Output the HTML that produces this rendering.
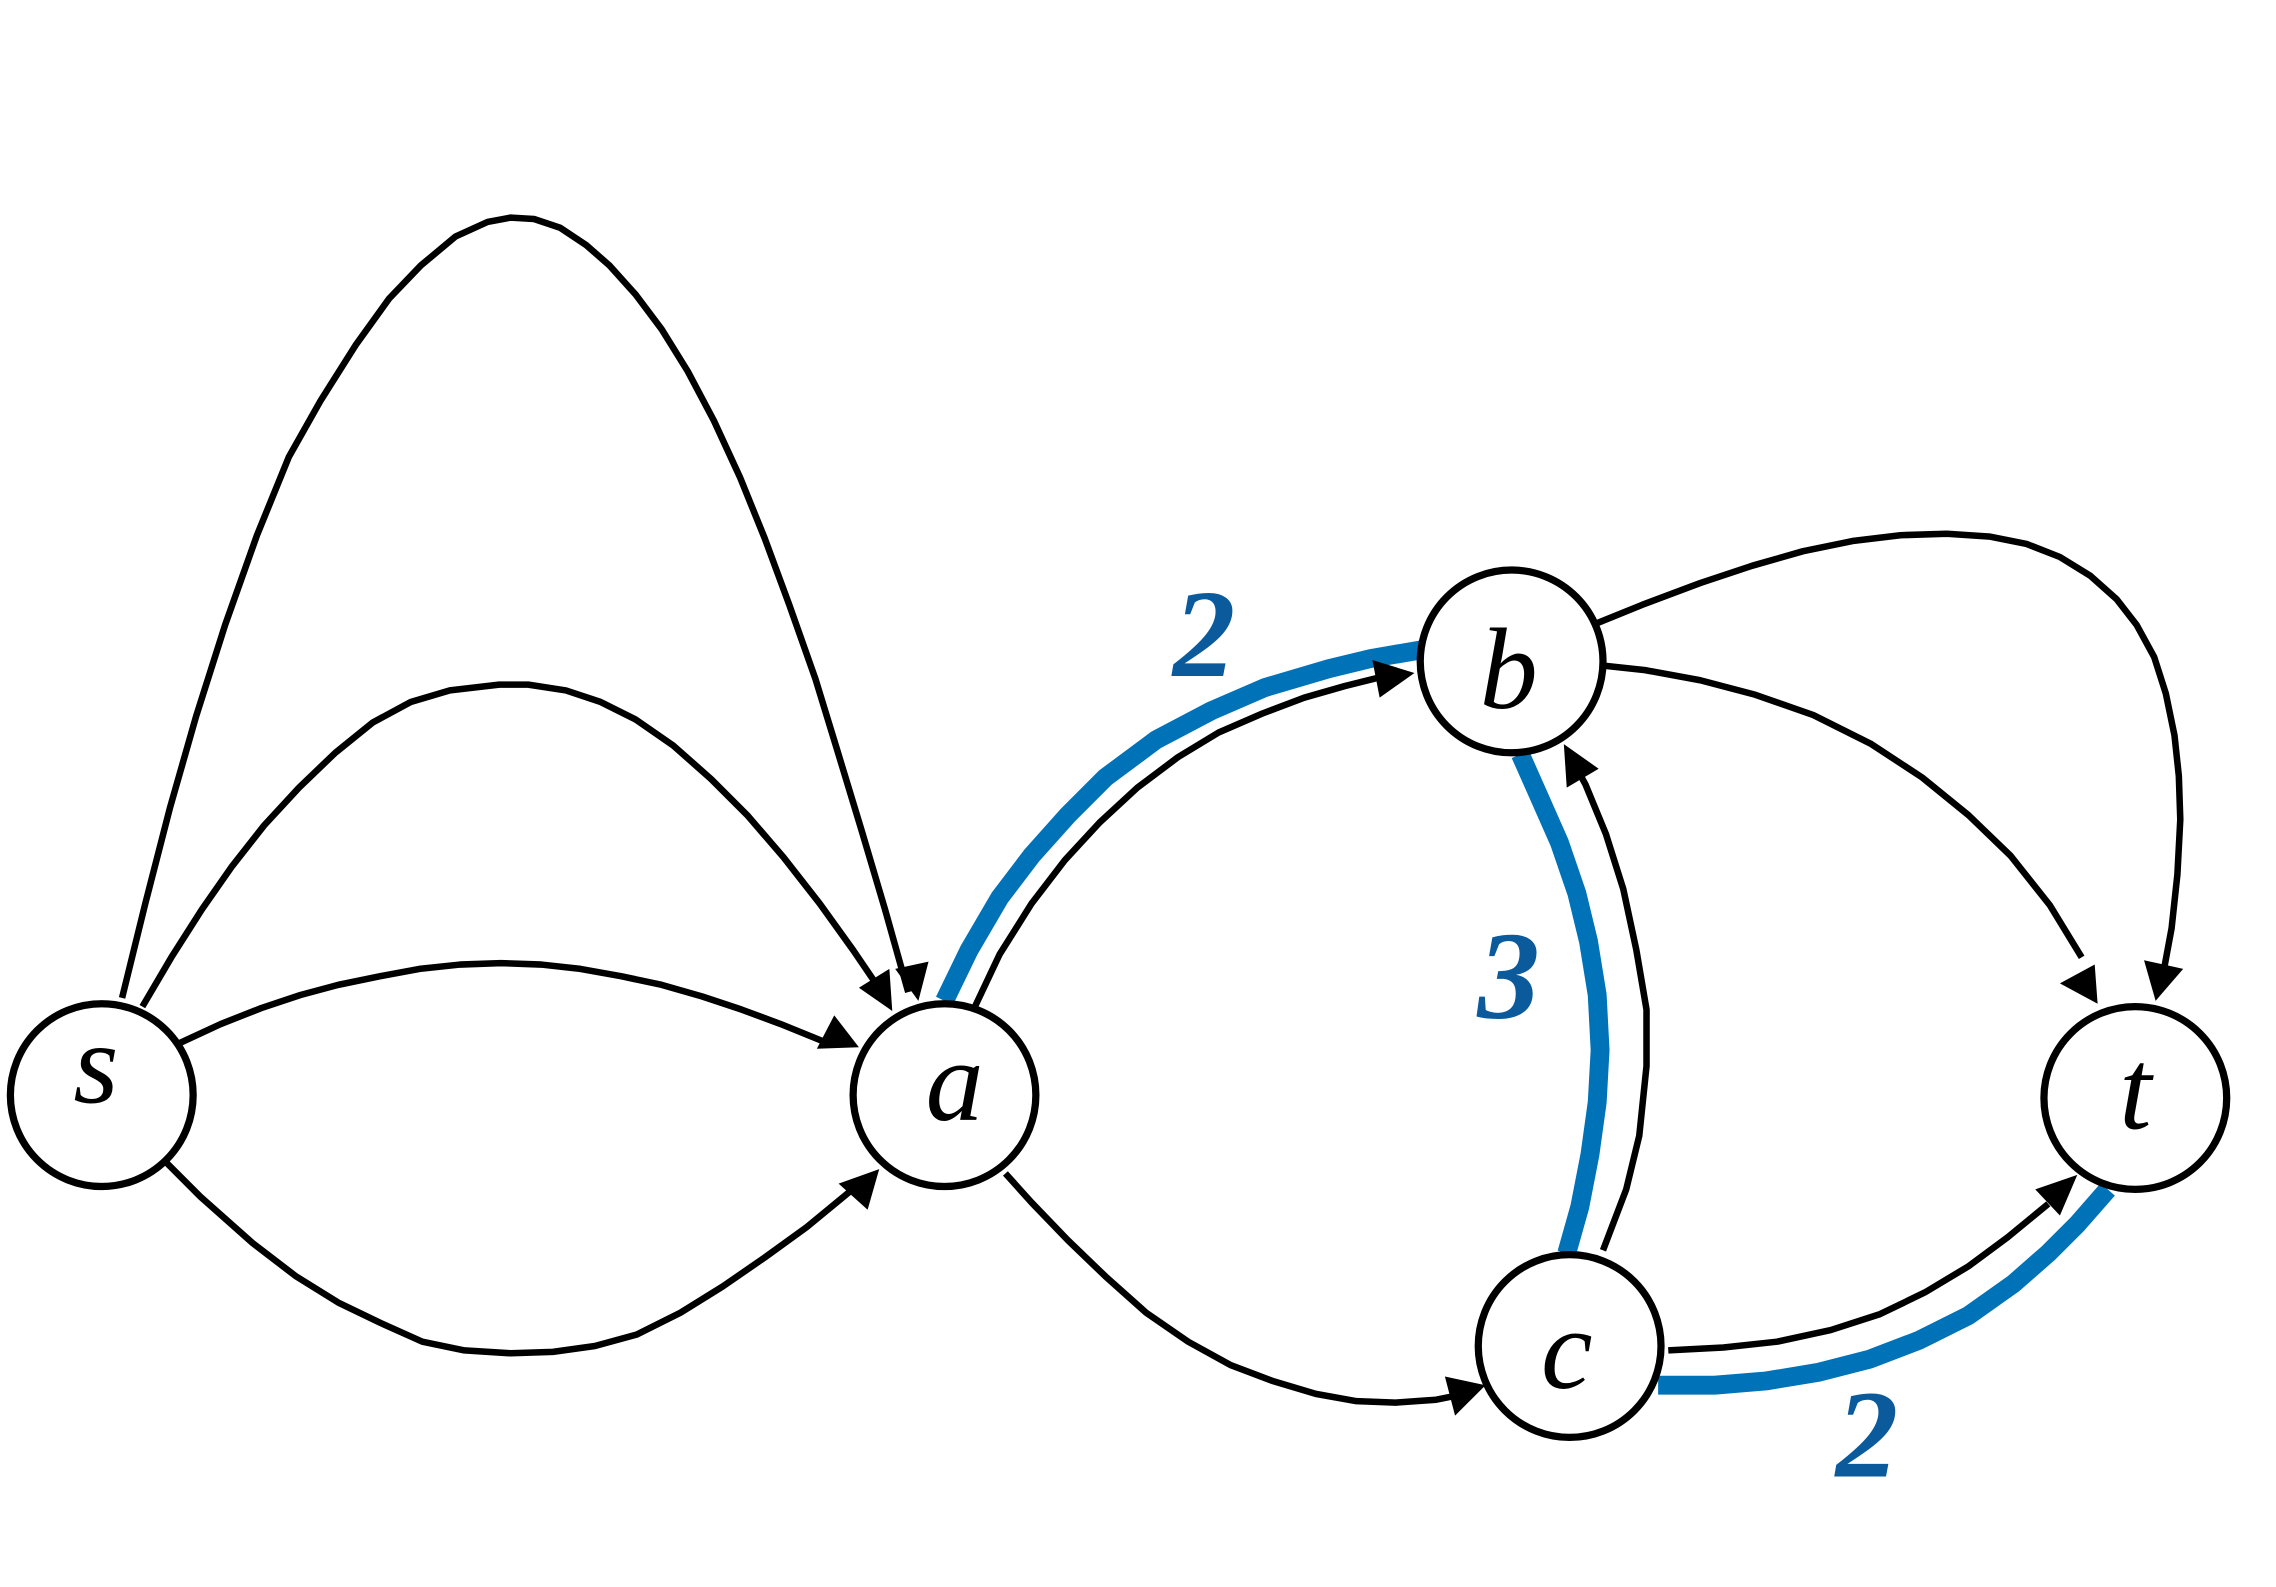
<!DOCTYPE html>
<html><head><meta charset="utf-8"><style>html,body{margin:0;padding:0;background:#fff}svg{display:block}</style></head>
<body>
<svg width="2276" height="1587" viewBox="0 0 1550 1081" xmlns="http://www.w3.org/2000/svg">
<g transform="scale(0.988)">
<g fill="none" stroke="#0072b8" stroke-width="13" stroke-linejoin="round">
<polyline points="651,690 668,655 689,619 711,590 736,562 762,536 797,510 835,490 872,474 916,461 945,454 980,448"/>
<polyline points="1048,520 1060,547 1075,581 1087,616 1095,649 1101,686 1103,724 1101,760 1096,796 1089,832 1080,864"/>
<polyline points="1143,955 1182,955 1218,952 1254,946 1289,937 1323,924 1357,907 1388,885 1412,864 1432,844 1453,820"/>
</g>
<g fill="none" stroke="#000" stroke-width="4.5" stroke-linejoin="round">
<polyline points="84,688 100,623 117,557 135,494 155,431 177,369 199,315 221,276 245,238 268,206 290,183 314,163 336,153 352,150 368,151 386,157 404,169 420,183 438,203 456,227 474,256 492,290 510,329 527,371 544,417 562,468 577,517 594,573 610,627 626,684"/>
<polyline points="98,694 118,660 139,627 160,597 182,569 206,543 231,519 257,498 283,484 310,476 344,472 364,472 390,476 414,484 438,496 464,514 490,537 515,562 540,591 565,623 588,655 605,680"/>
<polyline points="124,719 152,706 180,695 207,686 233,679 262,673 289,668 317,665 345,664 373,665 400,668 428,673 456,679 484,687 511,696 538,706 570,719"/>
<polyline points="113,800 138,825 174,857 204,880 233,898 262,912 291,925 320,931 352,933 381,932 410,928 439,920 469,905 498,887 527,867 556,846 590,818"/>
<polyline points="672,694 689,658 711,623 734,593 758,567 784,543 812,522 840,505 870,492 899,481 927,473 955,466"/>
<polyline points="693,809 711,829 736,855 762,880 790,905 819,925 848,941 877,952 907,961 935,966 962,967 990,965 1005,962"/>
<polyline points="1105,862 1121,820 1130,783 1135,735 1135,696 1128,655 1119,613 1107,575 1093,541 1087,530"/>
<polyline points="1100,430 1132,417 1172,402 1208,390 1243,380 1277,373 1310,369 1342,368 1372,370 1397,375 1420,384 1441,397 1459,413 1473,431 1485,453 1493,478 1499,507 1502,535 1503,565 1501,603 1497,640 1492,667"/>
<polyline points="1106,459 1134,462 1172,469 1210,479 1250,493 1290,513 1325,536 1357,562 1386,590 1413,624 1435,660"/>
<polyline points="1150,931 1188,929 1225,925 1262,917 1296,906 1327,891 1357,873 1384,853 1412,830"/>
</g>
<g fill="#000">
<polygon points="617,668 640,663 633,690"/>
<polygon points="592,681 613,668 615,697"/>
<polygon points="575,700 592,722 563,723"/>
<polygon points="578,816 606,806 598,834"/>
<polygon points="946,455 975,464 951,481"/>
<polygon points="996,949 1024,955 1003,976"/>
<polygon points="1078,513 1102,530 1080,543"/>
<polygon points="1478,662 1505,668 1486,690"/>
<polygon points="1420,678 1444,665 1446,692"/>
<polygon points="1403,820 1432,810 1420,838"/>
</g>
<g fill="#fff" stroke="#000" stroke-width="5">
<circle cx="70" cy="755" r="63"/>
<circle cx="651" cy="755" r="63"/>
<circle cx="1042" cy="456" r="63"/>
<circle cx="1082" cy="928" r="63"/>
<circle cx="1472" cy="757" r="63"/>
</g>
<g font-family="'Liberation Serif', serif" font-style="italic" font-size="80" text-anchor="middle" fill="#000">
<text x="66" y="760">s</text>
<text x="658" y="772">a</text>
<text x="1040" y="488">b</text>
<text x="1080" y="957">c</text>
<text x="1472" y="778">t</text>
</g>
<g font-family="'Liberation Serif', serif" font-style="italic" font-weight="bold" font-size="86" text-anchor="middle" fill="#0a5a9c">
<text x="830" y="466">2</text>
<text x="1040" y="702">3</text>
<text x="1287" y="1018">2</text>
</g>
</g>
</svg>
</body></html>
